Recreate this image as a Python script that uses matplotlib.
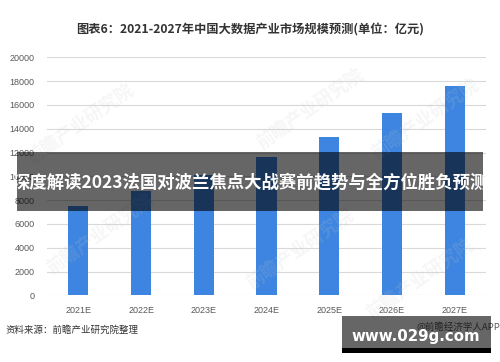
import matplotlib
matplotlib.use("Agg")
import matplotlib.pyplot as plt
from matplotlib.patches import Rectangle

plt.rcParams['font.family'] = ['Noto Sans CJK SC', 'DejaVu Sans']

categories = ["2021E", "2022E", "2023E", "2024E", "2025E", "2026E", "2027E"]
values = [7500, 8800, 10100, 11600, 13300, 15300, 17600]
yticks = [0, 2000, 4000, 6000, 8000, 10000, 12000, 14000, 16000, 18000, 20000]

title = "图表6：2021-2027年中国大数据产业市场规模预测(单位：亿元)"
banner = "深度解读2023法国对波兰焦点大战赛前趋势与全方位胜负预测"
source = "资料来源：前瞻产业研究院整理"
badge = "www.029g.com"
app = "@前瞻经济学人APP"
watermark = "前瞻产业研究院"

W, H = 500, 362
fig = plt.figure(figsize=(W / 100, H / 100), dpi=100)
fig.patch.set_facecolor("white")

ax = fig.add_axes([47 / W, 1 - 295.3 / H, (486 - 47) / W, (295.3 - 57.3) / H])
x = range(len(categories))
ax.bar(x, values, width=0.32, color="#3D85E0", zorder=3)
ax.set_xlim(-0.5, len(categories) - 0.5)
ax.set_ylim(0, 20000)
ax.set_yticks(yticks)
ax.set_yticklabels([str(v) for v in yticks], fontsize=6.5, color="#595959",
                   family=["Liberation Sans", "DejaVu Sans"])
ax.set_xticks(list(x))
ax.set_xticklabels(categories, fontsize=6.5, color="#595959",
                   family=["Liberation Sans", "DejaVu Sans"])
ax.tick_params(axis="both", length=0)
ax.tick_params(axis="y", pad=9)
ax.tick_params(axis="x", pad=8)
ax.grid(axis="y", color="#D9D9D9", linewidth=0.8, zorder=0)
for s in ax.spines.values():
    s.set_visible(False)
ax.set_facecolor("none")

# faint watermarks
for (wx, wy) in [(80, 125), (100, 235), (300, 250), (310, 110), (425, 120), (420, 280)]:
    fig.text(wx / W, 1 - wy / H, watermark, rotation=35, fontsize=13, fontweight="bold",
             color="#C8C8C8", alpha=0.16, ha="center", va="center", zorder=1)

fig.text(250 / W, 1 - 30 / H, title, fontsize=8.8, fontweight="bold", color="#333333",
         ha="center", va="center")
fig.text(6 / W, 1 - 330 / H, source, fontsize=6.8, color="#333333", ha="left", va="center")

# banner overlay
fig.patches.append(Rectangle((17 / W, 1 - 210.7 / H), (483 - 17) / W, (210.7 - 152) / H,
                             transform=fig.transFigure, facecolor="black", alpha=0.6,
                             edgecolor="none", zorder=10))
fig.text(250 / W, 1 - 182 / H, banner, fontsize=12.5, fontweight="bold", color="white",
         ha="center", va="center", zorder=11)

# bottom-right badge
fig.text(500 / W, 1 - 327 / H, app, fontsize=6.8, color="#595959", ha="right", va="center",
         zorder=9)
fig.patches.append(Rectangle((342 / W, 1 - 348 / H), (491 - 342) / W, (348 - 316) / H,
                             transform=fig.transFigure, facecolor="black", alpha=0.6,
                             edgecolor="none", zorder=10))
fig.patches.append(Rectangle((342 / W, 1 - 352.7 / H), (491 - 342) / W, 4.7 / H,
                             transform=fig.transFigure, facecolor="black",
                             edgecolor="none", zorder=10))
fig.text(416 / W, 1 - 336.5 / H, badge, fontsize=10.8, fontweight="bold", color="white",
         ha="center", va="center", zorder=11, family=["DejaVu Sans"])

fig.savefig("out.png", dpi=100)
